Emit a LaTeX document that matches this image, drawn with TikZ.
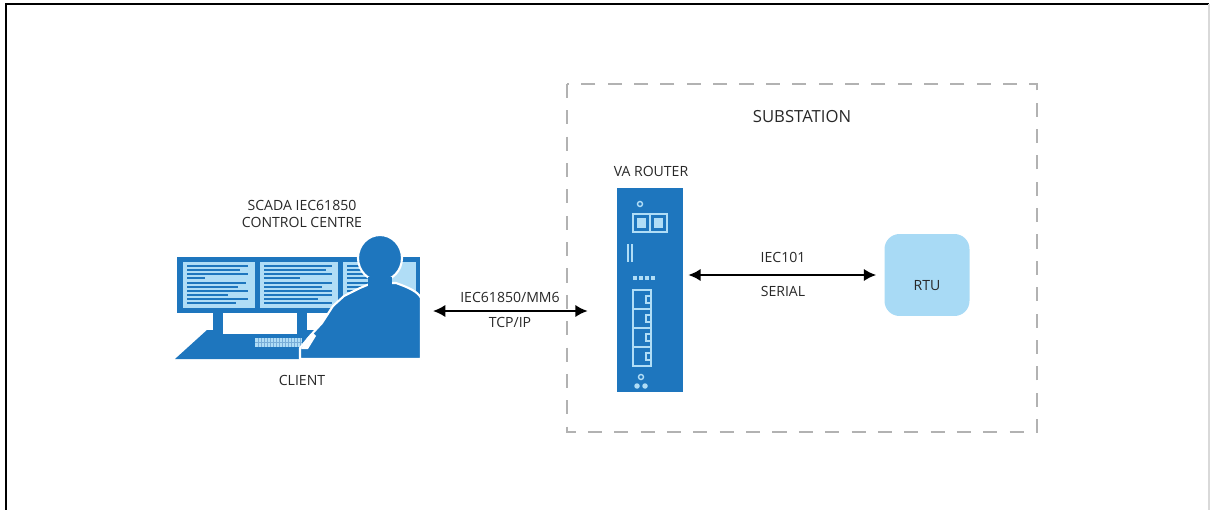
\documentclass[tikz,border=0pt]{standalone}
\usepackage{fontspec}
\setmainfont{Open Sans}
\usetikzlibrary{arrows,arrows.meta}

\definecolor{vablue}{RGB}{30,118,190}
\definecolor{screenblue}{RGB}{176,221,246}
\definecolor{rtublue}{RGB}{168,218,245}
\definecolor{boxgray}{RGB}{178,178,178}
\definecolor{captiongray}{RGB}{40,40,40}

\tikzset{
  caption/.style={font=\fontsize{8}{9.5}\selectfont, text=captiongray, align=center, inner sep=0pt},
  link/.style={{Latex[length=7pt,width=7pt]}-{Latex[length=7pt,width=7pt]}, line width=1.1pt},
  portline/.style={draw=screenblue, line width=0.8pt},
  textline/.style={vablue, line width=0.7pt},
  figure/.style={fill=vablue, draw=white, line width=1.2pt, line join=round},
}

\begin{document}
\begin{tikzpicture}[x=0.02cm,y=-0.02cm]
\useasboundingbox (0,0) rectangle (1211,510);
%Frame
\draw[line width=1.2pt] (6,510) -- (6,4) -- (1209,4);
\draw[black!15, line width=1pt] (1209,4) -- (1209,510);

%Substation
\draw[boxgray, line width=0.8pt, dash pattern=on 8pt off 7pt] (567,84) rectangle (1037,432);
\node[caption, font=\fontsize{9.5}{11}\selectfont] (substation) at (802,117) {SUBSTATION};

%Monitors
\fill[vablue] (177,257) rectangle (420,313);
\fill[screenblue] (183,262) rectangle (255,308);
\fill[screenblue] (260,262) rectangle (338,308);
\fill[screenblue] (343,262) rectangle (416,308);
\foreach \y/\e in {266/248,270/240,274/248,278/205,283/246,287/238,291/248,295/228,299/248,303/236}
  \draw[textline] (187,\y) -- (\e,\y);
\foreach \y/\e in {266/332,270/326,274/332,278/300,283/332,287/322,291/332,295/332,299/318,303/332}
  \draw[textline] (264,\y) -- (\e,\y);
\foreach \y/\e in {266/380,270/372,274/380,278/376,283/380,287/372,291/380,295/370}
  \draw[textline] (347,\y) -- (\e,\y);
\fill[vablue] (213,313) rectangle (223,331);
\fill[vablue] (297,313) rectangle (307,331);
%Desk and keyboard
\fill[vablue] (175,359) -- (207,330) -- (420,330) -- (420,359) -- cycle;
\fill[white] (223,313) rectangle (297,334);
\fill[screenblue] (255,338) rectangle (302,347);
\foreach \x in {258,261,...,300}
  \draw[vablue!60, line width=0.3pt] (\x,338) -- (\x,347);
\draw[vablue!60, line width=0.3pt] (255,342.5) -- (302,342.5);

%Operator
\draw[figure] (300,359) -- (300,348) -- (310,336) -- (322,323) -- (333,306) -- (344,296)
  -- (360,288) -- (372,283) -- (396,283) .. controls (410,288) and (418,292) .. (421,298)
  -- (421,359) -- cycle;
\fill[white] (301,349) -- (307,338) -- (313,333) -- (316,336) -- (308,349) -- cycle;
\draw[figure] (380,258) ellipse (0.44cm and 0.46cm);
\fill[vablue] (368,277) rectangle (392,289);

\node[caption] (scada) at (302,214) {SCADA IEC61850\\CONTROL CENTRE};
\node[caption] (client) at (302,380) {CLIENT};
\coordinate (clientport) at (420,311);

%Router
\node[fill=vablue, minimum width=1.32cm, minimum height=4.08cm, inner sep=0pt] (router) at (650,290) {};
\node[caption] (routerlabel) at (651,171) {VA ROUTER};
\draw[portline] (640,204) circle (0.05cm);
\draw[portline] (633,214) rectangle (650,232);
\draw[portline] (650,214) rectangle (667,232);
\fill[screenblue] (637,218) rectangle (646,228);
\fill[screenblue] (654,218) rectangle (663,228);
\draw[portline] (628,244) -- (628,262);
\draw[portline] (632,244) -- (632,262);
\foreach \x in {635,641,647,653}
  \fill[screenblue] (\x-1.6,276.4) rectangle (\x+1.6,279.6);
\foreach \y in {290,309,328,347}{
  \draw[portline] (633,\y) rectangle (651,\y+19);
  \draw[portline] (651,\y+6) -- (646,\y+6) -- (646,\y+13) -- (651,\y+13);
}
\draw[portline] (641,377) circle (0.05cm);
\fill[screenblue] (637,386) circle (0.055cm) (645,386) circle (0.055cm);

%RTU
\node[fill=rtublue, rounded corners=0.3cm, minimum width=1.7cm, minimum height=1.64cm] (rtu) at (927,275) {};
\node[caption] (rtulabel) at (927,286) {RTU};

%Links
\draw[link, shorten <=0.26cm, shorten >=0.58cm] (clientport) -- (router.west |- clientport);
\node[caption] (ieclabel) at (510,297) {IEC61850/MM6};
\node[caption] (tcplabel) at (510,322) {TCP/IP};
\draw[link, shorten <=0.1cm, shorten >=0.16cm] (router.east |- rtu.west) -- (rtu.west);
\node[caption] (seriallabel) at (783,257) {IEC101};
\node[caption] (serialtype) at (783,291) {SERIAL};
\end{tikzpicture}
\end{document}
